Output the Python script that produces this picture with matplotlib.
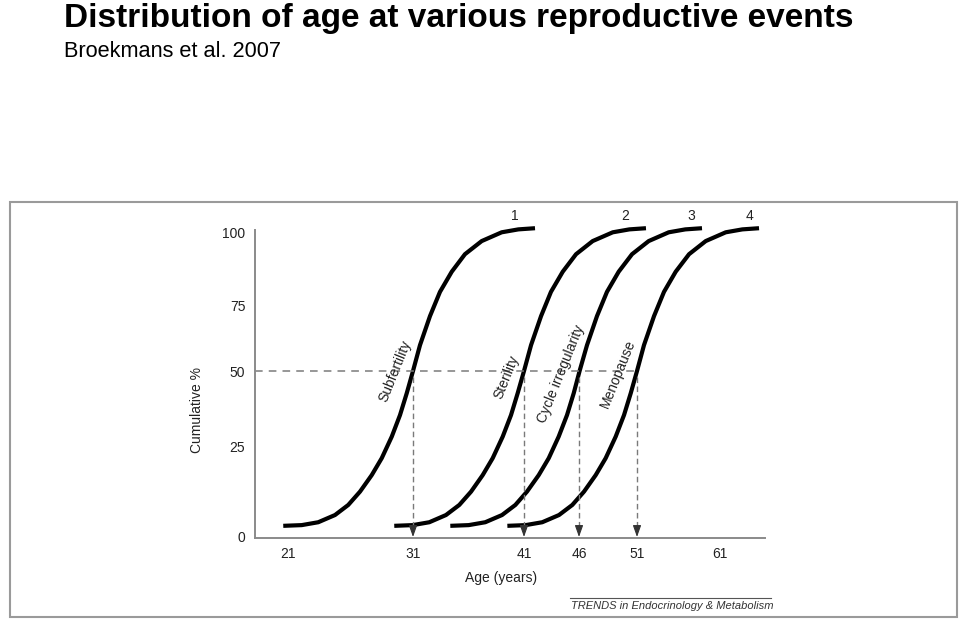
import numpy as np
import matplotlib
matplotlib.use('Agg')
import matplotlib.pyplot as plt
from matplotlib.patches import Rectangle
from matplotlib.lines import Line2D
from matplotlib.ticker import NullLocator

plt.rcParams['font.family'] = ['Liberation Sans', 'DejaVu Sans']

# --- data ---
cum_pct = [3.1, 3.3, 4.1, 6.1, 8.9, 12.6, 17.2, 21.9, 28.4, 35.5, 42.7, 50.0,
           59.8, 70.8, 79.5, 86.4, 92.4, 96.9, 99.9, 100.9, 101.3]
age_subfertility = [20.62, 22.10, 23.42, 24.76, 25.82, 26.76, 27.70, 28.50, 29.30, 29.96, 30.50,
                    31.0, 31.63, 32.53, 33.43, 34.49, 35.68, 37.19, 38.99, 40.49, 42.0]
age_sterility = [29.50, 30.98, 32.47, 33.97, 35.17, 36.23, 37.28, 38.18, 39.08, 39.83, 40.43,
                 41.0, 41.64, 42.55, 43.45, 44.52, 45.73, 47.18, 48.91, 50.34, 52.08]
age_cycle = [34.36, 36.02, 37.51, 39.02, 40.22, 41.27, 42.34, 43.25, 44.15, 44.91, 45.52,
             46.05, 46.69, 47.55, 48.41, 49.42, 50.57, 52.41, 54.82, 56.82, 58.83]
age_menopause = [39.50, 41.15, 42.66, 44.18, 45.39, 46.43, 47.44, 48.30, 49.16, 49.88, 50.46,
                 51.0, 51.84, 53.05, 54.25, 55.66, 57.27, 59.28, 61.69, 63.69, 65.70]
median_ages = [31, 41, 46, 51]
event_names = ['Subfertility', 'Sterility', 'Cycle irregularity', 'Menopause']
curve_ids = ['1', '2', '3', '4']
x_ticks = [21, 31, 41, 46, 51, 61]
y_ticks = [0, 25, 50, 75, 100]

# the original figure is schematic: tick spacing is not uniform
x_anchor = [0, 21, 31, 41, 46, 51, 61, 100]
x_layout = [25.5, 288, 413, 524, 579, 637, 720, 1043.7]
y_anchor = [-10, 0, 25, 50, 75, 100, 110]
y_layout = [-36, 0, 90, 166, 232, 305, 334.2]


def x_fwd(v):
    return np.interp(v, x_anchor, x_layout)


def x_inv(v):
    return np.interp(v, x_layout, x_anchor)


def y_fwd(v):
    return np.interp(v, y_anchor, y_layout)


def y_inv(v):
    return np.interp(v, y_layout, y_anchor)


fig = plt.figure(figsize=(9.6, 6.2), dpi=100)
ax = fig.add_axes([255 / 960, 82 / 620, 510 / 960, 333 / 620])
ax.set_xscale('function', functions=(x_fwd, x_inv))
ax.set_yscale('function', functions=(y_fwd, y_inv))
ax.set_xlim(18.36, 66.42)
ax.set_ylim(-0.28, 109.25)

curves = [age_subfertility, age_sterility, age_cycle, age_menopause]
for ages in curves:
    ax.plot(ages, cum_pct, color='black', lw=3.0, solid_capstyle='butt',
            solid_joinstyle='round', clip_on=False)

# 50 % reference line and arrows down to the median ages
grey = '#7a7a7a'
ax.plot([18.36, median_ages[-1]], [50, 50], color=grey, lw=1.1, dashes=(5, 4))
for m in median_ages:
    ax.plot([m, m], [48, 3], color=grey, lw=1.0, dashes=(4, 2.5))
    ax.annotate('', xy=(m, 0), xytext=(m, 3.2),
                arrowprops=dict(arrowstyle='-|>,head_length=0.7,head_width=0.25',
                                color='#333333', lw=0.8, shrinkA=0, shrinkB=0))

# rotated event labels
label_pos = [(29.6, 50), (39.45, 48), (44.35, 49), (49.4, 49)]
for name, (lx, ly) in zip(event_names, label_pos):
    ax.text(lx, ly, name, rotation=68, rotation_mode='anchor', ha='center', va='center',
            fontsize=10, color='#222222')

# curve numbers on top
id_pos = [40.2, 50.0, 57.5, 64.6]
for cid, lx in zip(curve_ids, id_pos):
    ax.text(lx, 105.5, cid, ha='center', va='center', fontsize=10, color='#222222', clip_on=False)

ax.set_xticks(x_ticks)
ax.set_yticks(y_ticks)
ax.xaxis.set_minor_locator(NullLocator())
ax.yaxis.set_minor_locator(NullLocator())
ax.tick_params(length=0, labelsize=10, labelcolor='#222222')
ax.tick_params(axis='x', pad=6.5)
ax.tick_params(axis='y', pad=7)
for side in ['top', 'right']:
    ax.spines[side].set_visible(False)
for side in ['left', 'bottom']:
    ax.spines[side].set_color('#8a8a8a')
    ax.spines[side].set_linewidth(1.4)
ax.spines['left'].set_bounds(-0.28, 100.7)

ax.set_xlabel('Age (years)', fontsize=10, color='#222222')
ax.xaxis.set_label_coords(0.482, -0.1)
ax.set_ylabel('Cumulative %', fontsize=10, color='#222222')
ax.yaxis.set_label_coords(-0.1, 0.384)

# panel frame and source line
fig.add_artist(Rectangle((10 / 960, 3 / 620), 947 / 960, 415 / 620, transform=fig.transFigure,
                         fill=False, ec='#9a9a9a', lw=1.5))
fig.add_artist(Line2D([570 / 960, 771 / 960], [1 - 598 / 620] * 2, transform=fig.transFigure,
                      color='#555555', lw=0.8))
fig.text(571 / 960, 1 - 609 / 620, 'TRENDS in Endocrinology & Metabolism', style='italic',
         fontsize=8, va='baseline', color='#333333')

fig.text(64 / 960, 1 - 27 / 620, 'Distribution of age at various reproductive events',
         fontsize=24, fontweight='bold', va='baseline')
fig.text(64 / 960, 1 - 57 / 620, 'Broekmans et al. 2007', fontsize=15.7, va='baseline')

fig.savefig('out.png', dpi=100)
